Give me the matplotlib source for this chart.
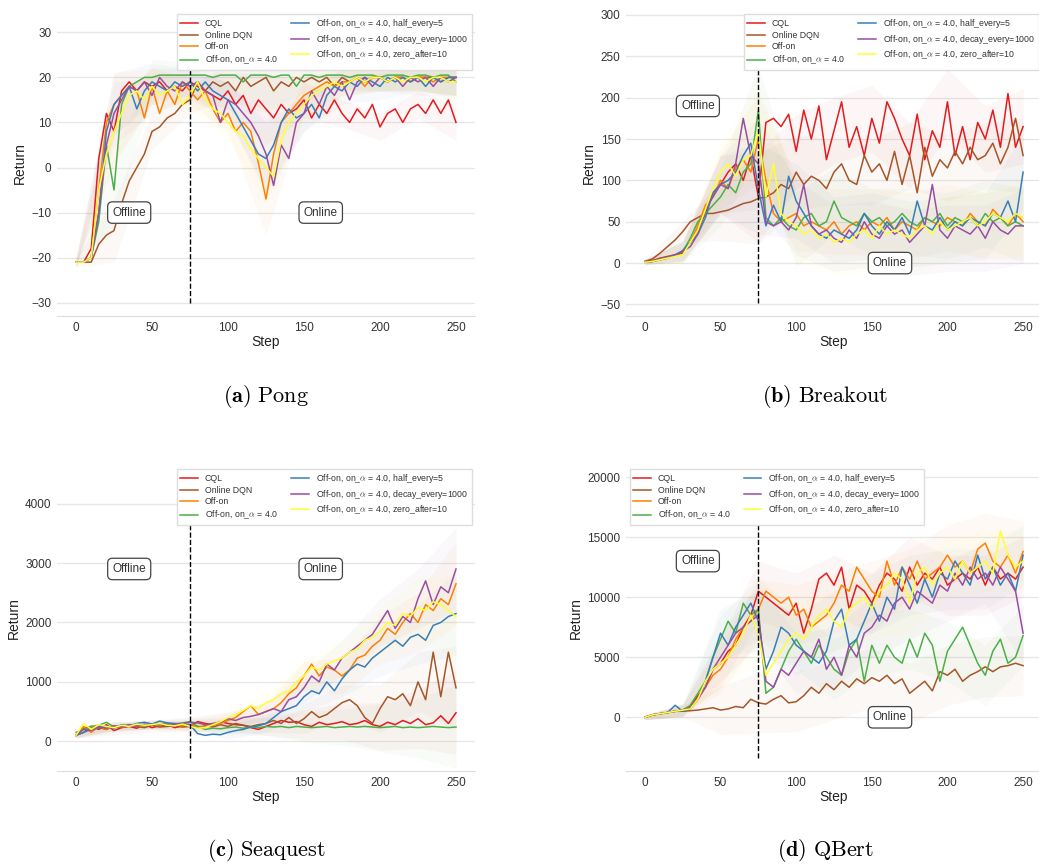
import matplotlib
matplotlib.use('Agg')
import matplotlib.pyplot as plt
import numpy as np

plt.rcParams['font.family'] = ['Liberation Sans', 'DejaVu Sans']
plt.rcParams['mathtext.fontset'] = 'cm'

steps = np.arange(0, 251, 5)
band_steps = np.arange(0, 251, 25)

labels = ['CQL', 'Online DQN', 'Off-on', r'Off-on, on_$\alpha$ = 4.0',
          r'Off-on, on_$\alpha$ = 4.0, half_every=5',
          r'Off-on, on_$\alpha$ = 4.0, decay_every=1000',
          r'Off-on, on_$\alpha$ = 4.0, zero_after=10']
colors = ['#e41a1c', '#a65628', '#ff7f00', '#4daf4a', '#377eb8', '#984ea3', '#ffff33']

# Pong
pong_cql = [-21, -21, -18, 2, 12, 8, 17, 19, 17, 19, 18, 19, 17, 18, 17, 19, 18, 17, 16, 15, 17, 14, 16, 12, 15, 13,
            11, 14, 12, 13, 15, 11, 14, 12, 15, 12, 10, 13, 11, 14, 9, 12, 13, 10, 13, 14, 12, 15, 12, 15, 10]
pong_dqn = [-21, -21, -21, -17, -15, -14, -8, -3, 0, 3, 8, 9, 11, 12, 14, 15, 19, 17, 19, 18, 19, 17, 20, 18, 19, 20,
            17, 19, 18, 20, 19, 20, 19, 20, 18, 20, 19, 20, 19, 20, 20, 19, 20, 20, 19, 20, 20, 20, 19, 20, 20]
pong_offon = [-21, -21, -20, -5, 10, 14, 16, 18, 17, 11, 18, 12, 17, 14, 19, 17, 15, 17, 13, 10, 12, 8, 10, 8, 1, -7,
              3, 10, 12, 14, 16, 17, 18, 19, 18, 19, 19, 20, 18, 20, 20, 19, 20, 20, 19, 20, 20, 19, 20, 20, 20]
pong_alpha = [-21, -21, -20, -12, 5, -5, 14, 18, 19, 20, 20, 20.5, 20.5, 20.5, 20.5, 20.5, 20.5, 20.5, 20, 20.5, 20.5,
              20.5, 19, 20.5, 20.5, 20.5, 20, 20.5, 20.5, 18, 20.5, 20.5, 20, 20.5, 20.5, 20.5, 20, 20.5, 20.5, 20.5,
              20, 20.5, 20.5, 20.5, 20, 20.5, 20.5, 20, 20.5, 20.5, 19]
pong_half = [-21, -21, -20, -10, 8, 14, 16, 18, 13, 17, 19, 18, 17, 19, 18, 19, 17, 19, 17, 16, 15, 12, 9, 6, 3, 2,
             5, 10, 13, 11, 12, 14, 11, 16, 18, 17, 19, 18, 20, 19, 18, 20, 19, 20, 19, 20, 18, 20, 19, 20, 20]
pong_decay = [-21, -21, -20, -10, 5, 12, 15, 18, 17, 19, 16, 20, 18, 17, 19, 18, 19, 17, 16, 10, 15, 14, 12, 10, 7, 3,
              -4, 5, 2, 10, 12, 17, 14, 18, 16, 19, 15, 19, 20, 18, 20, 19, 20, 18, 20, 19, 20, 18, 20, 19, 20]
pong_zero = [-21, -21, -20, -5, 3, 8, 12, 16, 17, 15, 18, 16, 17, 18, 14, 16, 19, 15, 13, 12, 10, 8, 7, 4, 2, 0,
             -2, 6, 10, 12, 14, 16, 17, 18, 19, 18, 19, 20, 19, 20, 20, 19, 20, 19, 20, 20, 19, 20, 20, 19, 19]
pong_spread = [1, 7, 4, 3, 4, 8, 4, 3, 3, 3, 4]

# Breakout
brk_cql = [2, 3, 6, 8, 10, 12, 25, 40, 60, 85, 95, 110, 120, 100, 130, 80, 170, 175, 165, 180, 135, 185, 150, 190,
           125, 160, 195, 140, 165, 130, 175, 145, 195, 175, 150, 130, 180, 125, 160, 140, 195, 130, 165, 125, 170,
           150, 185, 140, 205, 140, 165]
brk_dqn = [2, 5, 12, 20, 28, 38, 50, 55, 60, 60, 62, 64, 68, 72, 74, 78, 80, 85, 95, 90, 110, 95, 105, 100, 90, 110,
           120, 100, 95, 130, 110, 120, 100, 135, 95, 130, 85, 140, 105, 125, 115, 135, 120, 140, 125, 130, 145, 120,
           140, 175, 130]
brk_offon = [1, 2, 5, 7, 9, 15, 25, 45, 70, 80, 100, 90, 115, 125, 110, 150, 100, 60, 50, 55, 60, 45, 50, 45, 40, 50,
             35, 45, 50, 40, 50, 45, 55, 40, 50, 45, 40, 55, 50, 45, 55, 50, 45, 60, 50, 45, 65, 55, 45, 60, 50]
brk_alpha = [1, 2, 4, 6, 9, 14, 30, 50, 60, 70, 80, 95, 85, 110, 120, 185, 55, 45, 55, 45, 40, 55, 60, 45, 50, 75,
             55, 50, 45, 60, 50, 55, 45, 50, 60, 50, 45, 55, 50, 60, 45, 55, 50, 55, 45, 60, 50, 55, 45, 50, 45]
brk_half = [1, 2, 5, 7, 10, 15, 25, 35, 55, 85, 95, 100, 110, 130, 145, 90, 45, 70, 50, 105, 75, 60, 45, 35, 30, 40,
            35, 30, 40, 60, 45, 35, 50, 40, 55, 35, 75, 45, 40, 55, 40, 50, 45, 55, 50, 45, 60, 55, 75, 50, 110]
brk_decay = [1, 2, 4, 6, 10, 14, 20, 35, 65, 80, 95, 90, 120, 175, 130, 120, 50, 45, 50, 40, 55, 95, 45, 35, 40, 30,
             25, 40, 30, 50, 35, 30, 45, 35, 40, 25, 35, 45, 95, 40, 30, 45, 40, 35, 45, 30, 50, 40, 35, 45, 45]
brk_zero = [1, 2, 4, 6, 8, 10, 25, 40, 65, 90, 110, 120, 105, 125, 130, 160, 80, 120, 60, 50, 45, 35, 40, 30, 35, 25,
            30, 25, 35, 40, 30, 45, 35, 40, 35, 30, 40, 45, 35, 50, 40, 45, 50, 55, 45, 50, 60, 55, 50, 60, 55]
brk_spread = [3, 12, 35, 55, 45, 40, 40, 40, 40, 40, 45]

# Seaquest
sq_cql = [100, 220, 250, 200, 280, 180, 230, 250, 220, 280, 230, 260, 280, 230, 260, 250, 330, 300, 280, 330, 300,
          280, 270, 230, 200, 250, 300, 350, 320, 330, 280, 250, 320, 280, 300, 330, 280, 300, 350, 280, 250, 320,
          280, 350, 300, 380, 280, 310, 430, 300, 480]
sq_dqn = [100, 150, 250, 230, 200, 260, 240, 280, 250, 230, 270, 240, 250, 260, 240, 250, 230, 260, 240, 280, 250,
          300, 270, 250, 280, 300, 350, 300, 400, 300, 380, 500, 400, 450, 550, 650, 700, 600, 400, 300, 550, 750,
          700, 800, 600, 1000, 700, 1500, 750, 1500, 900]
sq_offon = [100, 250, 150, 250, 200, 260, 230, 280, 250, 260, 290, 270, 300, 280, 260, 280, 250, 250, 270, 300, 350,
            400, 500, 600, 450, 500, 550, 650, 800, 900, 1100, 1300, 1100, 1250, 1200, 1100, 1200, 1400, 1450, 1600,
            1700, 1900, 1800, 2000, 2150, 2000, 2300, 2200, 2400, 2300, 2650]
sq_alpha = [150, 200, 250, 270, 320, 240, 250, 270, 280, 260, 290, 280, 300, 290, 310, 330, 250, 200, 220, 210, 230,
            240, 220, 240, 230, 250, 240, 250, 230, 250, 240, 230, 240, 250, 230, 240, 250, 240, 250, 240, 230, 240,
            250, 230, 240, 230, 240, 250, 240, 230, 240]
sq_half = [100, 150, 200, 230, 250, 220, 280, 260, 300, 320, 290, 340, 310, 300, 290, 280, 130, 100, 120, 110, 150,
           180, 200, 240, 260, 300, 400, 500, 550, 600, 750, 850, 800, 1000, 850, 1050, 1200, 1300, 1250, 1400, 1500,
           1600, 1700, 1600, 1750, 1800, 1700, 1950, 2000, 2100, 2150]
sq_decay = [100, 200, 180, 250, 220, 260, 240, 280, 250, 290, 270, 300, 280, 290, 300, 320, 310, 280, 300, 320, 380,
            350, 400, 420, 450, 500, 550, 500, 700, 750, 900, 1100, 1000, 1300, 1200, 1400, 1500, 1600, 1700, 1800,
            2000, 2200, 1900, 2100, 2000, 2400, 2700, 2300, 2600, 2500, 2900]
sq_zero = [100, 300, 200, 280, 250, 230, 270, 250, 290, 270, 280, 300, 270, 260, 290, 250, 220, 230, 280, 330, 400,
           450, 520, 600, 550, 650, 700, 800, 850, 1000, 1100, 1250, 1200, 1300, 1350, 1400, 1500, 1550, 1700, 1750,
           1850, 2000, 1950, 2150, 2100, 2250, 2200, 2350, 2300, 2200, 2100]
sq_spread = [40, 70, 70, 80, 120, 150, 250, 300, 400, 500, 700]

# QBert
qb_cql = [0, 200, 300, 400, 500, 600, 900, 1800, 2500, 4000, 4500, 5500, 6000, 7500, 8500, 10500, 10000, 9500, 9000,
          8500, 9500, 7000, 9000, 11500, 12000, 11000, 12500, 9000, 11000, 10500, 9500, 11000, 12000, 11500, 10500,
          12500, 11000, 12000, 11500, 12500, 11000, 11500, 12000, 11500, 12500, 11000, 12500, 11500, 12000, 11500,
          12500]
qb_dqn = [0, 200, 300, 400, 500, 500, 550, 600, 700, 800, 600, 700, 900, 800, 1500, 1200, 1100, 1500, 1800, 1200,
          1300, 1800, 2500, 2000, 2800, 2300, 3000, 2500, 3200, 2800, 3300, 3000, 3500, 2800, 3200, 2000, 2500, 3000,
          2200, 3800, 3500, 4000, 3000, 3500, 3800, 4200, 3800, 4200, 4300, 4500, 4300]
qb_offon = [0, 200, 300, 400, 500, 600, 800, 1500, 2500, 3500, 4000, 5000, 6500, 7500, 8000, 9000, 10500, 10000,
            9500, 10000, 8500, 9000, 7500, 8000, 8500, 9500, 11000, 10500, 12500, 11500, 10500, 10000, 13000, 11000,
            12500, 11500, 13000, 11500, 12000, 12500, 13500, 12500, 13000, 12000, 14000, 14500, 13000, 12500, 13500,
            12000, 13800]
qb_alpha = [0, 200, 300, 400, 500, 600, 1000, 2000, 3000, 5000, 6500, 8000, 7000, 9500, 8500, 9000, 2000, 2500,
            4000, 5500, 6500, 5500, 4500, 6000, 5000, 4000, 3500, 5500, 6500, 3000, 6000, 4500, 6000, 5000, 4500,
            6500, 5000, 7000, 6000, 3000, 5500, 6500, 7500, 6000, 4500, 3500, 5500, 6500, 4500, 5000, 6800]
qb_half = [0, 200, 300, 400, 1000, 500, 700, 1500, 3000, 5000, 7000, 6000, 7500, 8500, 9500, 8000, 4000, 5500, 7500,
           7000, 6000, 5500, 5000, 4500, 5500, 8000, 9000, 6000, 6500, 8000, 9500, 8000, 10000, 9000, 12500, 11000,
           9500, 11500, 10000, 12000, 11500, 13000, 12000, 11000, 13500, 11500, 12500, 11000, 12000, 10500, 13500]
qb_decay = [0, 200, 300, 400, 500, 600, 800, 1500, 2500, 4000, 5000, 6000, 7000, 7500, 8000, 8500, 3000, 2500, 4000,
            3500, 4500, 5500, 5000, 6500, 4000, 5000, 3500, 6000, 5000, 7000, 7500, 8500, 8000, 9500, 10000, 9000,
            10500, 10000, 9500, 11000, 10500, 12000, 11000, 12500, 11500, 12000, 11000, 12500, 11500, 10500, 7000]
qb_zero = [0, 200, 300, 400, 500, 600, 700, 1500, 3000, 4000, 4500, 5000, 6000, 7000, 8500, 7000, 3500, 4500, 5500,
           6500, 7000, 6500, 7500, 8500, 9000, 8000, 7500, 9000, 9500, 10000, 9000, 10500, 11000, 12000, 11500, 9500,
           12000, 12500, 11000, 12000, 12500, 11500, 13000, 12000, 12500, 13000, 12000, 15500, 13500, 12500, 13000]
qb_spread = [200, 500, 2000, 2500, 2500, 2500, 2500, 2500, 2500, 2500, 2500]

panels = [
    ([pong_cql, pong_dqn, pong_offon, pong_alpha, pong_half, pong_decay, pong_zero], pong_spread,
     (-32.95, 34.95), [-30, -20, -10, 0, 10, 20, 30], (35, -10), (161, -10), 'upper right',
     [57, 475, 10, 316], r'$\mathbf{(a)}\ \mathrm{Pong}$'),
    ([brk_cql, brk_dqn, brk_offon, brk_alpha, brk_half, brk_decay, brk_zero], brk_spread,
     (-64, 306), [-50, 0, 50, 100, 150, 200, 250, 300], (35, 190), (162, 0), 'upper right',
     [626, 1042, 10, 316], r'$\mathbf{(b)}\ \mathrm{Breakout}$'),
    ([sq_cql, sq_dqn, sq_offon, sq_alpha, sq_half, sq_decay, sq_zero], sq_spread,
     (-500, 4650), [0, 1000, 2000, 3000, 4000], (35, 2900), (161, 2900), 'upper right',
     [57, 475, 465, 771], r'$\mathbf{(c)}\ \mathrm{Seaquest}$'),
    ([qb_cql, qb_dqn, qb_offon, qb_alpha, qb_half, qb_decay, qb_zero], qb_spread,
     (-4470, 21000), [0, 5000, 10000, 15000, 20000], (35, 13000), (162, 0), 'upper left',
     [626, 1042, 465, 771], r'$\mathbf{(d)}\ \mathrm{QBert}$'),
]

W, H = 1039, 865
fig = plt.figure(figsize=(W / 100, H / 100), dpi=100)

for series, spread, ylim, yticks, off_xy, on_xy, loc, box, caption in panels:
    l, r, t, b = box
    ax = fig.add_axes([l / W, 1 - b / H, (r - l) / W, (b - t) / H])
    spread = np.array(spread)
    # faint std bands
    for ys, c in zip(series, colors):
        yb = np.array(ys, dtype=float)[::5]
        ax.fill_between(band_steps, yb - spread, yb + spread, color=c, alpha=0.04, lw=0)
    for ys, c, lab in zip(series, colors, labels):
        ax.plot(steps, ys, color=c, lw=1.1, label=lab)
    ax.axvline(75, ymin=0.0435, ymax=0.97, color='k', ls='--', lw=1)
    ax.set_xlim(-12.5, 262.5)
    ax.set_ylim(*ylim)
    ax.set_xticks([0, 50, 100, 150, 200, 250])
    ax.set_yticks(yticks)
    ax.grid(axis='y', color='#e6e6e6', lw=0.9)
    ax.set_axisbelow(True)
    for s in ['left', 'top', 'right']:
        ax.spines[s].set_visible(False)
    ax.spines['bottom'].set_color('#dddddd')
    ax.tick_params(length=0, labelsize=8.5, colors='#333333', pad=4)
    ax.set_xlabel('Step', fontsize=10, color='#222222', labelpad=1)
    ax.set_ylabel('Return', fontsize=10, color='#222222', labelpad=3)
    bbox = dict(boxstyle='round,pad=0.4', fc='white', ec='#444444', lw=0.9)
    ax.text(off_xy[0], off_xy[1], 'Offline', ha='center', va='center', fontsize=8.5, bbox=bbox, color='#333333')
    ax.text(on_xy[0], on_xy[1], 'Online', ha='center', va='center', fontsize=8.5, bbox=bbox, color='#333333')
    leg = ax.legend(loc=loc, ncol=2, fontsize=6.3, labelspacing=0.3, borderaxespad=0.4,
                    framealpha=1, edgecolor='#dddddd', fancybox=False, columnspacing=1.5)
    for txt in leg.get_texts():
        txt.set_color('#333333')
    fig.text((l + r) / 2 / W if r < W else (l + 1025) / 2 / W, 1 - (b + 80) / H, caption,
             ha='center', va='center', fontsize=16)

fig.savefig('out.png', dpi=100)
